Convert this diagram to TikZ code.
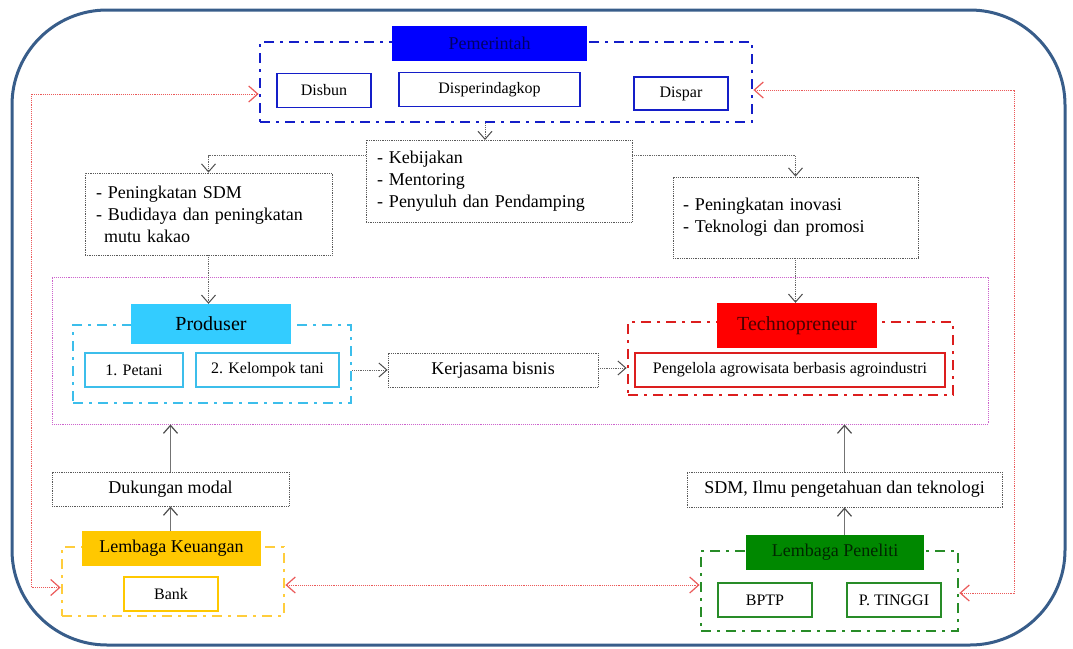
\documentclass[tikz,border=0pt]{standalone}
\usepackage{fontspec}
\setmainfont{Liberation Serif}
\usetikzlibrary{arrows.meta,positioning,calc}
\definecolor{framebase}{RGB}{56,93,138}
\definecolor{pemblue}{RGB}{0,0,255}
\definecolor{pemline}{RGB}{20,30,200}
\definecolor{prodcyan}{RGB}{51,204,255}
\definecolor{prodline}{RGB}{60,190,235}
\definecolor{technored}{RGB}{255,0,0}
\definecolor{technoline}{RGB}{220,30,30}
\definecolor{keugold}{RGB}{255,200,0}
\definecolor{keuline}{RGB}{255,205,60}
\definecolor{pengreen}{RGB}{0,136,0}
\definecolor{penline}{RGB}{40,140,40}
\definecolor{kolabpink}{RGB}{205,100,205}
\definecolor{linkred}{RGB}{235,90,90}

\begin{document}
\begin{tikzpicture}[x=1pt,y=-1pt,
	listbox/.style={draw=black!65,densely dotted,line width=0.8pt,align=left,inner xsep=11pt,font=\fontsize{18}{22}\selectfont},
	plainbox/.style={draw=black!65,densely dotted,line width=0.8pt,minimum height=34pt,inner sep=0pt,font=\fontsize{18}{21}\selectfont},
	group/.style={line width=2.8pt,dash pattern=on 10pt off 6pt on 3pt off 6pt,inner sep=0pt},
	title/.style={minimum height=35pt,inner sep=0pt,font=\fontsize{18}{21}\selectfont},
	item/.style={line width=1.8pt,minimum height=34pt,inner sep=0pt,fill=white,font=\fontsize{16}{19}\selectfont},
	conn/.style={draw=black!60,densely dotted,line width=0.8pt,-{Straight Barb[length=8pt,width=14pt,line width=1pt,black!70]}},
	upconn/.style={draw=black!55,line width=1.2pt,-{Straight Barb[length=8pt,width=14pt,line width=1.2pt,black!70]}},
	redconn/.style={draw=linkred,densely dotted,line width=0.9pt,{Straight Barb[length=9pt,width=16pt,line width=1.2pt]}-{Straight Barb[length=9pt,width=16pt,line width=1.2pt]}}]
	\useasboundingbox (0,0) rectangle (1073,648);

	% outer frame
	\draw[framebase,line width=3pt,rounded corners=95pt] (12,10) rectangle (1065,645);

	% kolaborasi area
	\node[draw=kolabpink,densely dotted,line width=0.9pt,minimum width=936pt,minimum height=147pt,inner sep=0pt] (kolab) at (520,350.5) {};

	% Pemerintah
	\node[group,draw=pemline,minimum width=492pt,minimum height=80pt] (pemFrame) at (506,82) {};
	\node[title,fill=pemblue,text=blue!40!black,minimum width=195pt] (pemTitle) at (489.5,43.5) {Pemerintah};
	\node[item,draw=pemline,minimum width=94pt] (disbun) at (324,90.5) {Disbun};
	\node[item,draw=pemline,minimum width=181pt] (disperindag) at (489.5,89.5) {Disperindagkop};
	\node[item,draw=pemline,minimum width=94pt,minimum height=33pt] (dispar) at (681,93.5) {Dispar};

	% program boxes
	\node[listbox,text width=244pt,minimum height=82pt] (kebijakan) at (499,181)
		{- Kebijakan\\- Mentoring\\- Penyuluh dan Pendamping};
	\node[listbox,text width=225pt,minimum height=82pt] (sdmBox) at (208.5,214)
		{- Peningkatan SDM\\- Budidaya dan peningkatan\\\hspace*{0.45em}mutu kakao};
	\node[listbox,text width=225pt,inner xsep=10pt,minimum height=81pt] (inovasiBox) at (795.5,217.5)
		{- Peningkatan inovasi\\- Teknologi dan promosi};

	% Produser
	\node[group,draw=prodline,minimum width=278pt,minimum height=78pt] (prodFrame) at (212,364) {};
	\node[title,fill=prodcyan,font=\fontsize{20}{24}\selectfont,minimum width=160pt,minimum height=40pt] (prodTitle) at (211,324) {Produser};
	\node[item,draw=prodline,line width=1.2pt,minimum width=98pt] (petani) at (134,370) {1. Petani};
	\node[item,draw=prodline,line width=1.2pt,minimum width=143pt] (kelompok) at (267.5,370) {2. Kelompok tani};

	\node[plainbox,minimum width=210pt] (kerjasama) at (493,370) {Kerjasama bisnis};

	% Technopreneur
	\node[group,draw=technoline,minimum width=325pt,minimum height=73pt] (technoFrame) at (790.5,358.5) {};
	\node[title,fill=technored,text=red!30!black,font=\fontsize{20}{24}\selectfont,minimum width=160pt,minimum height=45pt] (technoTitle) at (797,325.5) {Technopreneur};
	\node[item,draw=technoline,line width=1.2pt,minimum width=310pt] (pengelola) at (790,370) {Pengelola agrowisata berbasis agroindustri};

	% Lembaga Keuangan
	\node[plainbox,minimum width=237pt] (dukungan) at (170.5,489) {Dukungan modal};
	\node[group,draw=keuline,minimum width=222pt,minimum height=69pt] (keuFrame) at (173,581.5) {};
	\node[title,fill=keugold,minimum width=179pt] (keuTitle) at (171.5,548.5) {Lembaga Keuangan};
	\node[item,draw=keugold,minimum width=94pt] (bank) at (171,594) {Bank};

	% Lembaga Peneliti
	\node[plainbox,minimum width=315pt,minimum height=35pt] (ilmu) at (844.5,489.5) {SDM, Ilmu pengetahuan dan teknologi};
	\node[group,draw=penline,minimum width=257pt,minimum height=80pt] (penFrame) at (829.5,591) {};
	\node[title,fill=pengreen,text=green!15!black,minimum width=178pt] (penTitle) at (835,552.5) {Lembaga Peneliti};
	\node[item,draw=penline,minimum width=94pt] (bptp) at (765,600) {BPTP};
	\node[item,draw=penline,minimum width=94pt] (ptinggi) at (894,600) {P. TINGGI};

	% flow from Pemerintah
	\coordinate (kebIn) at (485,140);
	\draw[conn] (pemFrame.south -| kebIn) -- (kebIn);
	\draw[conn] ([yshift=-16pt]kebijakan.north west) -| (sdmBox.north);
	\draw[conn] ([yshift=-16pt]kebijakan.north east) -| (inovasiBox.north);
	\draw[conn] (sdmBox.south) -- (sdmBox.south |- prodTitle.north);
	\draw[conn] (inovasiBox.south) -- (inovasiBox.south |- technoTitle.north);

	% kerjasama
	\draw[conn] (kerjasama.west -| prodFrame.east) -- (kerjasama.west);
	\draw[conn] ([yshift=2pt]kerjasama.east) -- ([yshift=2pt]kerjasama.east -| technoFrame.west);

	% support from below
	\draw[upconn] (dukungan.north) -- (dukungan.north |- kolab.south);
	\draw[upconn] (dukungan.south |- keuTitle.north) -- (dukungan.south);
	\draw[upconn] (ilmu.north) -- (ilmu.north |- kolab.south);
	\draw[upconn] (ilmu.south |- penTitle.north) -- (ilmu.south);

	% koordinasi antar lembaga
	\coordinate (redL) at (31,0);
	\coordinate (redR) at (1014,0);
	\draw[redconn] ([yshift=-12pt]pemFrame.west) -- ([yshift=-12pt]pemFrame.west -| redL)
		-- ([yshift=-6pt]keuFrame.west -| redL) -- ([yshift=-6pt]keuFrame.west);
	\draw[redconn] ([yshift=-8pt]pemFrame.east) -- ([yshift=-8pt]pemFrame.east -| redR)
		-- ([yshift=-2pt]penFrame.east -| redR) -- ([yshift=-2pt]penFrame.east);
	\draw[redconn] ([yshift=-3.5pt]keuFrame.east) -- ([yshift=-3.5pt]keuFrame.east -| penFrame.west);
\end{tikzpicture}
\end{document}
